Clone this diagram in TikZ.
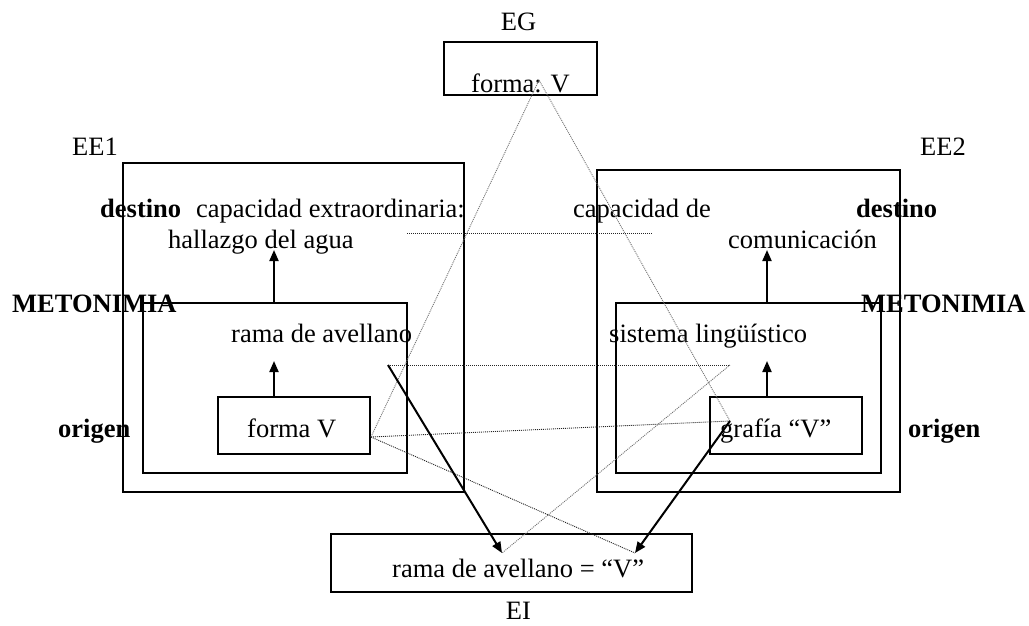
\documentclass[tikz,border=0pt]{standalone}
\usepackage{fontspec}
\setmainfont{Liberation Serif}
\usetikzlibrary{arrows.meta}
\begin{document}
\begin{tikzpicture}[x=1pt,y=-1pt,
  box/.style={draw,line width=2.6pt,inner sep=0pt},
  txt/.style={anchor=base west,inner sep=0pt,font=\fontsize{26.5}{30}\selectfont},
  ctxt/.style={anchor=base,inner sep=0pt,font=\fontsize{26.5}{30}\selectfont},
  btxt/.style={anchor=base west,inner sep=0pt,font=\fontsize{26.5}{30}\selectfont\bfseries},
  arr/.style={line width=2pt,-{Triangle[length=11pt,width=9pt]}},
  darkdot/.style={line width=0.9pt,black!85,dash pattern=on 1pt off 1pt},
  lightdot/.style={line width=0.9pt,black!55,dash pattern=on 1pt off 1pt}]
\useasboundingbox (0,0) rectangle (1029,625);

% boxes
\node[box,minimum width=153pt,minimum height=53pt] (eg) at (520.5,68.5) {};
\node[box,minimum width=341pt,minimum height=329pt] (ee1) at (293.5,327.5) {};
\node[box,minimum width=264pt,minimum height=170pt] (in1) at (275,388) {};
\node[box,minimum width=152pt,minimum height=57pt] (fv) at (294,425.5) {};
\node[box,minimum width=303pt,minimum height=322pt] (ee2) at (748.5,331) {};
\node[box,minimum width=265pt,minimum height=170pt] (in2) at (748.5,388) {};
\node[box,minimum width=152pt,minimum height=57pt] (gv) at (786,425.5) {};
\node[box,minimum width=361pt,minimum height=58pt] (ei) at (511.5,563) {};

% labels
\node[ctxt] (lEG) at (518.5,30) {EG};
\node[txt] (tEG) at (471,92) {forma: V};
\node[txt] (lEE1) at (72,155) {EE1};
\node[txt] (lEE2) at (920,155) {EE2};
\node[ctxt] (lEI) at (518.5,619) {EI};

\node[btxt] (d1) at (100,217) {destino};
\node[txt] (c1) at (196,217) {capacidad extraordinaria:};
\node[txt] (h1) at (168,248) {hallazgo del agua};
\node[btxt] (m1) at (12,312) {METONIMIA};
\node[txt] (r1) at (231,342) {rama de avellano};
\node[txt] (f1) at (247,437) {forma V};
\node[btxt] (o1) at (58,437) {origen};

\node[txt] (c2) at (573,217) {capacidad de};
\node[btxt] (d2) at (856,217) {destino};
\node[txt] (h2) at (728,248) {comunicación};
\node[btxt] (m2) at (861,312) {METONIMIA};
\node[txt] (s2) at (609,342) {sistema lingüístico};
\node[txt] (g2) at (720,437) {grafía “V”};
\node[btxt] (o2) at (908,437) {origen};

\node[txt] (tEI) at (392,577) {rama de avellano = “V”};

% connection points
\coordinate (pEG) at (539,80);
\coordinate (pL) at (371,437);
\coordinate (qL) at (388,365);
\coordinate (pR) at (730,421);
\coordinate (qR) at (730,365);
\coordinate (eA) at (502,553);
\coordinate (eB) at (635,553);
\coordinate (hL) at (407,233);
\coordinate (hR) at (653,233);
\coordinate (a1s) at (274,303);
\coordinate (a1e) at (274,250);
\coordinate (a2s) at (274,397);
\coordinate (a2e) at (274,361);
\coordinate (a3s) at (767,303);
\coordinate (a3e) at (767,250);
\coordinate (a4s) at (767,397);
\coordinate (a4e) at (767,361);

% dotted lines
\draw[lightdot] (pL) -- (pEG);
\draw[lightdot] (pEG) -- (pR);
\draw[darkdot] (hL) -- (hR);
\draw[darkdot] (qL) -- (qR);
\draw[lightdot] (qR) -- (eA);
\draw[darkdot] (pL) -- (pR);
\draw[darkdot] (pL) -- (eB);

% arrows
\draw[arr] (a1s) -- (a1e);
\draw[arr] (a2s) -- (a2e);
\draw[arr] (a3s) -- (a3e);
\draw[arr] (a4s) -- (a4e);
\draw[arr] (qL) -- (eA);
\draw[arr] (pR) -- (eB);
\end{tikzpicture}
\end{document}
